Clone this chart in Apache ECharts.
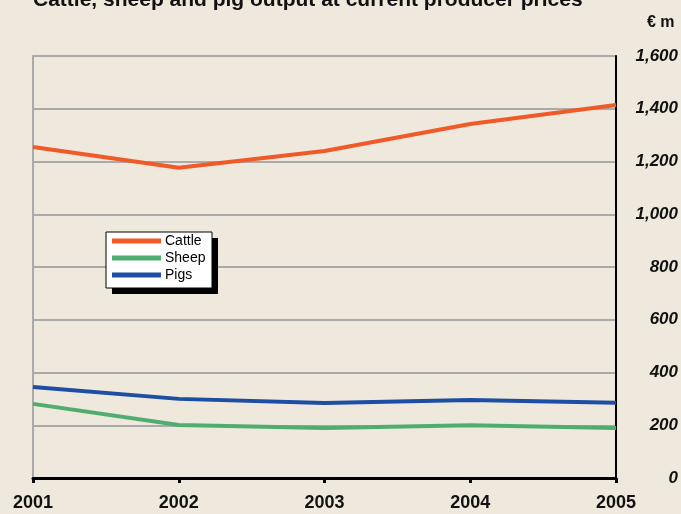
<!DOCTYPE html>
<html>
<head>
<meta charset="utf-8">
<script src="https://cdn.jsdelivr.net/npm/echarts@6/dist/echarts.min.js"></script>
<style>
  html, body { margin: 0; padding: 0; background: #efe8dd; }
  #chart { width: 681px; height: 514px; }
</style>
</head>
<body>
<div id="chart"></div>
<script>
  // years on the x axis
  var years = ["2001", "2002", "2003", "2004", "2005"];
  // output, € m
  var cattle = [1255, 1176, 1240, 1342, 1414];
  var sheep = [281, 201, 190, 200, 190];
  var pigs = [345, 300, 284, 296, 285];

  var font = "'Liberation Sans', Arial, sans-serif";
  var chart = echarts.init(document.getElementById("chart"));

  chart.setOption({
    backgroundColor: "#efe8dd",
    animation: false,
    title: {
      text: "Cattle, sheep and pig output at current producer prices",
      left: 33,
      top: -10,
      padding: 0,
      textStyle: { fontFamily: font, fontWeight: "bold", fontSize: 21, color: "#111" },
    },
    graphic: [
      {
        type: "text",
        left: 647,
        top: 15,
        style: { text: "€ m", font: "bold 16px " + font, fill: "#111" },
      },
      // legend frame with its hard drop shadow
      {
        type: "rect",
        shape: { x: 112, y: 238, width: 106, height: 56 },
        style: { fill: "#000" },
        z: 10,
      },
      {
        type: "rect",
        shape: { x: 106, y: 232, width: 106, height: 56 },
        style: { fill: "#fff", stroke: "#000", lineWidth: 1 },
        z: 11,
      },
    ],
    legend: {
      orient: "vertical",
      left: 112,
      top: 234,
      padding: 0,
      itemGap: 3,
      itemWidth: 49,
      itemHeight: 5,
      icon: "rect",
      z: 20,
      textStyle: { fontFamily: font, fontSize: 14, color: "#000", padding: [0, 0, 0, -1] },
      data: ["Cattle", "Sheep", "Pigs"],
    },
    grid: { left: 33, right: 64, top: 56, bottom: 36 },
    xAxis: {
      type: "category",
      data: years,
      boundaryGap: false,
      axisLine: { lineStyle: { color: "#000", width: 3 } },
      axisTick: { show: true, length: 5, lineStyle: { color: "#000", width: 3 } },
      axisLabel: { fontFamily: font, fontWeight: "bold", fontSize: 18, color: "#111", margin: 16 },
    },
    yAxis: [
      {
        type: "value",
        position: "right",
        min: 0,
        max: 1600,
        interval: 200,
        axisLine: { show: true, lineStyle: { color: "#000", width: 2 } },
        axisTick: { show: false },
        splitLine: { lineStyle: { color: "#aaa", width: 2 } },
        axisLabel: {
          align: "right",
          margin: 62,
          fontFamily: font,
          fontWeight: "bold",
          fontStyle: "italic",
          fontSize: 17,
          color: "#111",
          formatter: function (v) {
            return v.toLocaleString("en-US");
          },
        },
      },
      {
        type: "value",
        position: "left",
        min: 0,
        max: 1600,
        interval: 200,
        axisLine: { show: true, lineStyle: { color: "#aaa", width: 2 } },
        axisTick: { show: false },
        splitLine: { show: false },
        axisLabel: { show: false },
      },
    ],
    series: [
      {
        name: "Cattle",
        type: "line",
        data: cattle,
        symbol: "none",
        color: "#f05a28",
        lineStyle: { width: 4 },
        z: 4,
      },
      {
        name: "Sheep",
        type: "line",
        data: sheep,
        symbol: "none",
        color: "#4fae6f",
        lineStyle: { width: 4 },
        z: 3,
      },
      {
        name: "Pigs",
        type: "line",
        data: pigs,
        symbol: "none",
        color: "#1c4ea3",
        lineStyle: { width: 4 },
        z: 3,
      },
    ],
  });
</script>
</body>
</html>
